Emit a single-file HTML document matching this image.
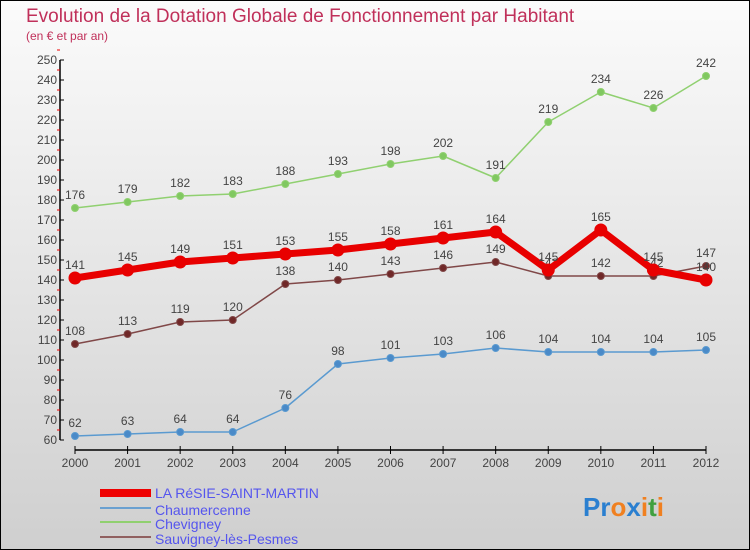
<!DOCTYPE html>
<html><head><meta charset="utf-8"><style>
body{margin:0;width:750px;height:550px;overflow:hidden;font-family:"Liberation Sans",sans-serif}
#c{position:absolute;left:0;top:0;width:748px;height:548px;border:1px solid #000;background:linear-gradient(#fbfbfb,#cfcfcf)}
</style></head><body>
<div id="c">
<svg width="750" height="550" style="position:absolute;left:-1px;top:-1px" id="svg">
<text x="26" y="22" font-size="19" fill="#c0305a">Evolution de la Dotation Globale de Fonctionnement par Habitant</text>
<text x="26" y="40" font-size="12" fill="#c0305a">(en € et par an)</text>
<g id="axes"></g><g id="series"></g>
<g>
<rect x="100" y="489" width="51" height="8" fill="#e00"/>
<text x="155" y="498" font-size="14" fill="#55e">LA RéSIE-SAINT-MARTIN</text>
<rect x="100" y="507" width="51" height="2" fill="#6aa0d0"/>
<text x="155" y="515" font-size="14" fill="#55e">Chaumercenne</text>
<rect x="100" y="521" width="51" height="2" fill="#90d070"/>
<text x="155" y="529" font-size="14" fill="#55e">Chevigney</text>
<rect x="100" y="536" width="51" height="2" fill="#906060"/>
<text x="155" y="544" font-size="14" fill="#55e">Sauvigney-lès-Pesmes</text>
</g>
<text x="583" y="516" font-size="26" font-weight="bold"><tspan fill="#2a7fd0">Pr</tspan><tspan fill="#f08020">o</tspan><tspan fill="#2a7fd0">x</tspan><tspan fill="#f08020">i</tspan><tspan fill="#40a040">t</tspan><tspan fill="#f08020">i</tspan></text>
</svg></div>
<script>
const years=[2000,2001,2002,2003,2004,2005,2006,2007,2008,2009,2010,2011,2012];
const resie=[141,145,149,151,153,155,158,161,164,145,165,145,140];
const chaum=[62,63,64,64,76,98,101,103,106,104,104,104,105];
const chev=[176,179,182,183,188,193,198,202,191,219,234,226,242];
const sauv=[108,113,119,120,138,140,143,146,149,142,142,142,147];
const yTicks=[60,70,80,90,100,110,120,130,140,150,160,170,180,190,200,210,220,230,240,250];
const NS="http://www.w3.org/2000/svg";
const X=i=>75+i*(706-75)/12, Y=v=>440-(v-60)*2;
function mk(t,a,p){const e=document.createElementNS(NS,t);for(const k in a)e.setAttribute(k,a[k]);p.appendChild(e);return e;}
const ax=document.getElementById('axes'),sg=document.getElementById('series');
const yl=mk('line',{x1:60,y1:Y(250),x2:60,y2:Y(60),stroke:'#000','stroke-width':1.5},ax);


yTicks.forEach(v=>{
 mk('line',{x1:60,x2:64,y1:Y(v),y2:Y(v),stroke:'#000'},ax);
 mk('line',{x1:57,x2:60,y1:Y(v+5),y2:Y(v+5),stroke:'#e00'},ax);
 const t=mk('text',{x:57,y:Y(v)+4,'font-size':12,'text-anchor':'end',fill:'#444'},ax);t.textContent=v;
 
 
});
const xl=mk('line',{x1:75,y1:450,x2:706,y2:450,stroke:'#000','stroke-width':1.5},ax);


years.forEach((y,i)=>{
 mk('line',{x1:X(i),x2:X(i),y1:446,y2:454,stroke:'#000'},ax);
 const t=mk('text',{x:X(i),y:467,'font-size':12,'text-anchor':'middle',fill:'#444'},ax);t.textContent=y;
 
 
});
function draw(vals,col,dot,w,r,name){
 const g=mk('g',{},sg);
 
 
 mk('polyline',{points:vals.map((v,i)=>X(i)+','+Y(v)).join(' '),fill:'none',stroke:col,'stroke-width':w,'stroke-linejoin':'round'},g);
 vals.forEach((v,i)=>{
  const c=mk('circle',{cx:X(i),cy:Y(v),r:r,fill:dot,stroke:col,'stroke-width':1},g);
  
  
  const t=mk('text',{x:X(i),y:Y(v)-9,'font-size':12,'text-anchor':'middle',fill:'#444'},g);t.textContent=v;
  
  
 });
}
draw(chaum,'#5a9ad0','#4a8ac8',1.5,3.5,'chaumercenne');
draw(chev,'#90d070','#80c860',1.5,3.5,'chevigney');
draw(sauv,'#804848','#702828',1.5,3.5,'sauvigney');
draw(resie,'#e80000','#e80000',7,6,'resie');
</script>
</body></html>
